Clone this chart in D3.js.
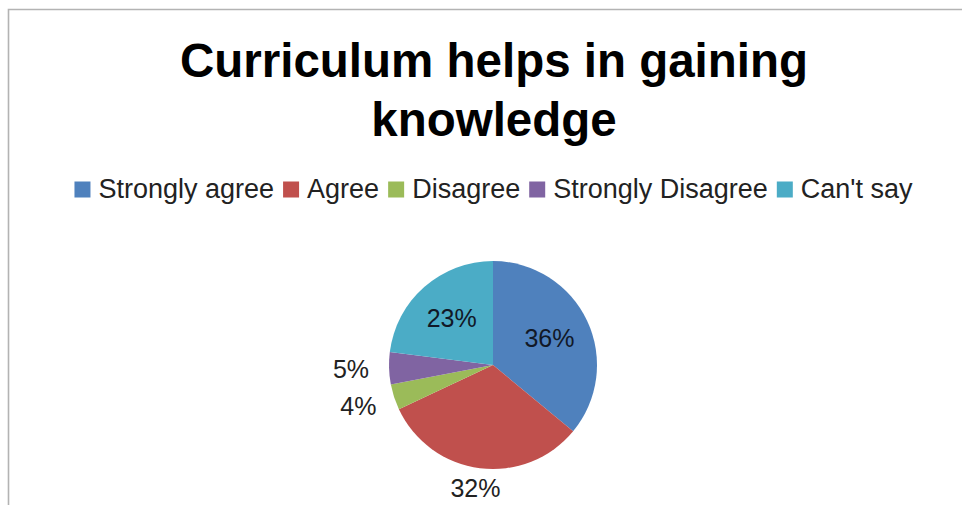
<!DOCTYPE html>
<html>
<head>
<meta charset="utf-8">
<script src="https://cdn.jsdelivr.net/npm/d3@7/dist/d3.min.js"></script>
<style>
  html, body { margin: 0; padding: 0; background: #fff; }
  svg { display: block; }
</style>
</head>
<body>
<svg id="chart" width="962" height="505"></svg>
<script>
const titleLines = ["Curriculum helps in gaining", "knowledge"];
const categories = ["Strongly agree", "Agree", "Disagree", "Strongly Disagree", "Can't say"];
const values = [36, 32, 4, 5, 23];
const labels = ["36%", "32%", "4%", "5%", "23%"];
const colors = ["#4F81BD", "#C0504D", "#9BBB59", "#8064A2", "#4BACC6"];
const labelInside = [true, false, false, false, true];

const W = 962, H = 505;
const svg = d3.select("#chart");
const font = "'Liberation Sans', Arial, Helvetica, sans-serif";

// frame
svg.append("path")
  .attr("d", `M8.5,${H} L8.5,9.5 L${W},9.5`)
  .attr("fill", "none").attr("stroke", "#b3b3b3").attr("stroke-width", 1.6);

// title
const title = svg.append("text")
  .attr("text-anchor", "middle")
  .attr("font-family", font).attr("font-weight", "bold")
  .attr("font-size", 47.5).attr("fill", "#000");
titleLines.forEach((t, i) => {
  title.append("tspan").attr("x", 494).attr("y", 77 + i * 59).text(t);
});

// legend
const legendG = svg.append("g");
const lfs = 27, sq = 16, sqGap = 8, itemGap = 9;
let lx = 0;
categories.forEach((c, i) => {
  const g = legendG.append("g").attr("transform", `translate(${lx},0)`);
  g.append("rect").attr("x", 0).attr("y", -sq - 0.5).attr("width", sq).attr("height", sq).attr("fill", colors[i]);
  const t = g.append("text").attr("x", sq + sqGap).attr("y", 0)
    .attr("font-family", font).attr("font-size", lfs).attr("fill", "#222").text(c);
  lx += sq + sqGap + t.node().getComputedTextLength() + itemGap;
});
lx -= itemGap;
legendG.attr("transform", `translate(${493.5 - lx / 2},198)`);

// pie
const cx = 493, cy = 365, R = 104;
const pie = d3.pie().sort(null).value(d => d)(values);
const arc = d3.arc().innerRadius(0).outerRadius(R);
const pg = svg.append("g").attr("transform", `translate(${cx},${cy})`);
pg.selectAll("path").data(pie).join("path")
  .attr("d", arc).attr("fill", (d, i) => colors[i]);

// labels
const pfs = 25, hh = pfs * 0.36;
pie.forEach((d, i) => {
  const a = (d.startAngle + d.endAngle) / 2;
  const s = Math.sin(a), c = Math.cos(a);
  const t = pg.append("text").attr("text-anchor", "middle")
    .attr("font-family", font).attr("font-size", pfs)
    .attr("fill", labelInside[i] ? "#111827" : "#222").text(labels[i]);
  const hw = t.node().getComputedTextLength() / 2;
  let x, y;
  if (labelInside[i]) {
    x = R * 0.6 * s; y = -R * 0.6 * c;
  } else {
    const gap = 10 + 10 * Math.abs(s);
    const px = (R + gap) * s, py = -(R + gap) * c;
    x = px + hw * s; y = py - hh * c;
  }
  t.attr("x", x).attr("y", y + hh);
});
</script>
</body>
</html>
